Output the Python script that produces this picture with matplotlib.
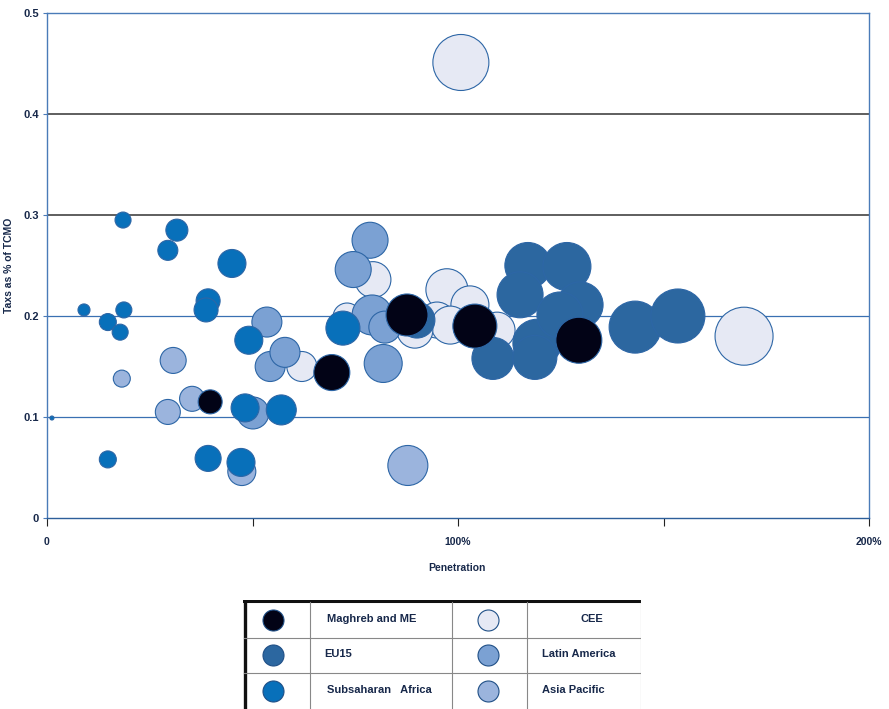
import numpy as np
import matplotlib.pyplot as plt

# penetration (%), taxes as share of TCMO, bubble weight per country group
mena_x = [39.7, 69.3, 87.6, 104.1, 129.4]
mena_y = [0.115, 0.144, 0.201, 0.190, 0.176]
mena_b = [24, 36, 42, 44, 46]

cee_x = [100.7, 169.6, 79.3, 97.3, 94.9, 62.0, 102.9, 98.1, 109.5, 73.0, 89.5]
cee_y = [0.451, 0.180, 0.236, 0.226, 0.196, 0.150, 0.211, 0.191, 0.186, 0.199, 0.186]
cee_b = [56, 58, 36, 42, 36, 30, 38, 38, 36, 28, 36]

eu_x = [117.0, 126.5, 115.1, 129.7, 119.2, 108.5, 118.7, 143.1, 153.5, 90.0, 124.8]
eu_y = [0.250, 0.249, 0.221, 0.211, 0.173, 0.158, 0.159, 0.189, 0.200, 0.196, 0.201]
eu_b = [46, 48, 46, 46, 48, 42, 44, 52, 54, 36, 46]

latam_x = [78.6, 74.5, 79.1, 81.8, 53.5, 54.3, 57.9, 50.1, 82.2]
latam_y = [0.275, 0.246, 0.201, 0.153, 0.194, 0.150, 0.164, 0.104, 0.189]
latam_b = [36, 36, 40, 38, 30, 30, 30, 32, 32]

ssa_x = [18.5, 31.6, 29.4, 45.0, 9.0, 18.7, 14.8, 17.8, 39.2, 38.7, 49.1,
         72.0, 57.0, 39.2, 47.2, 14.8, 1.2, 48.2]
ssa_y = [0.295, 0.285, 0.265, 0.252, 0.206, 0.206, 0.194, 0.184, 0.215, 0.206,
         0.176, 0.188, 0.107, 0.059, 0.055, 0.058, 0.099, 0.109]
ssa_b = [16, 22, 20, 28, 12, 16, 17, 16, 24, 24, 28, 34, 30, 26, 28, 17, 4, 28]

apac_x = [30.7, 18.2, 35.3, 29.4, 47.4, 87.8]
apac_y = [0.156, 0.138, 0.118, 0.105, 0.046, 0.052]
apac_b = [26, 17, 25, 25, 28, 40]

colors = {'Maghreb and ME': '#020316', 'CEE': '#e6e9f4', 'EU15': '#2c67a0',
          'Latin America': '#7ba1d3', 'Subsaharan   Africa': '#0870ba',
          'Asia Pacific': '#9bb4dd'}

navy = '#17284a'
edge = '#2d66a6'

fig = plt.figure(figsize=(8.89, 7.09), dpi=100)
ax = fig.add_axes([47 / 889, 1 - 518 / 709, 822 / 889, 505 / 709])

def bubbles(x, y, b, name, z):
    s = (np.array(b) * 0.72) ** 2
    ax.scatter(x, y, s=s, c=colors[name], edgecolors=edge, linewidths=0.8,
               zorder=z, clip_on=False)

bubbles(cee_x, cee_y, cee_b, 'CEE', 3)
bubbles(apac_x, apac_y, apac_b, 'Asia Pacific', 4)
bubbles(latam_x, latam_y, latam_b, 'Latin America', 5)
bubbles(eu_x, eu_y, eu_b, 'EU15', 6)
bubbles(ssa_x, ssa_y, ssa_b, 'Subsaharan   Africa', 7)
bubbles(mena_x, mena_y, mena_b, 'Maghreb and ME', 8)

# horizontal grid
for yv, col, lw in [(0.1, '#3a70b2', 0.9), (0.2, '#3a70b2', 0.9),
                    (0.3, '#333333', 1.1), (0.4, '#333333', 1.1)]:
    ax.axhline(yv, color=col, lw=lw, zorder=1)

ax.set_xlim(0, 200)
ax.set_ylim(0, 0.5)
for side in ['left', 'right', 'top', 'bottom']:
    ax.spines[side].set_color('#4a7bb8')
    ax.spines[side].set_linewidth(1.0)
ax.spines['bottom'].set_color('#2d5f9a')

ax.set_xticks([0, 50, 100, 150, 200])
ax.set_xticklabels(['0', '', '100%', '', '200%'])
ax.set_yticks([0, 0.1, 0.2, 0.3, 0.4, 0.5])
ax.set_yticklabels(['0', '0.1', '0.2', '0.3', '0.4', '0.5'])
ax.tick_params(axis='x', direction='out', length=6, width=0.8, color='#222222',
               pad=8, labelsize=7.5, labelcolor=navy)
ax.tick_params(axis='y', direction='out', length=3, width=0.8, color='#4a7bb8',
               pad=3, labelsize=8, labelcolor=navy)
for lab in ax.get_xticklabels() + ax.get_yticklabels():
    lab.set_fontweight('bold')
    lab.set_family('Liberation Sans')

ax.set_xlabel('Penetration', fontsize=7.5, fontweight='bold', color=navy,
              family='Liberation Sans')
ax.xaxis.set_label_coords(0.499, -0.090)
ax.set_ylabel('Taxs as % of TCMO', fontsize=7.5, fontweight='bold', color=navy,
              family='Liberation Sans')
ax.yaxis.set_label_coords(-0.040, 0.50)

# legend drawn as a boxed table under the plot
lg = fig.add_axes([243 / 889, 0, 398 / 889, 109 / 709])
lg.set_xlim(243, 641)
lg.set_ylim(709, 600)
lg.axis('off')
lg.plot([244, 641], [601.5, 601.5], color='#111111', lw=2.2)
lg.plot([244.5, 244.5], [600, 709], color='#111111', lw=2.4)
lg.plot([641, 641], [600, 709], color='#999999', lw=0.8)
for yy in [638, 673]:
    lg.plot([244, 641], [yy, yy], color='#888888', lw=0.8)
for xx in [310, 452, 527]:
    lg.plot([xx, xx], [602, 709], color='#888888', lw=0.8)

cells = [('Maghreb and ME', 273, 620, 327, 'left'),
         ('EU15', 273, 655, 324, 'left'),
         ('Subsaharan   Africa', 273, 691, 327, 'left'),
         ('CEE', 488, 620, 592, 'center'),
         ('Latin America', 488, 655, 542, 'left'),
         ('Asia Pacific', 488, 691, 542, 'left')]
for name, mx, my, tx, ha in cells:
    lg.scatter([mx], [my], s=(21 * 0.72) ** 2, c=colors[name],
               edgecolors='#1f4f86', linewidths=0.8, clip_on=False)
    lg.text(tx, my - 1, name, ha=ha, va='center', fontsize=8,
            fontweight='bold', color=navy, family='Liberation Sans')

fig.savefig('out.png', dpi=100)
